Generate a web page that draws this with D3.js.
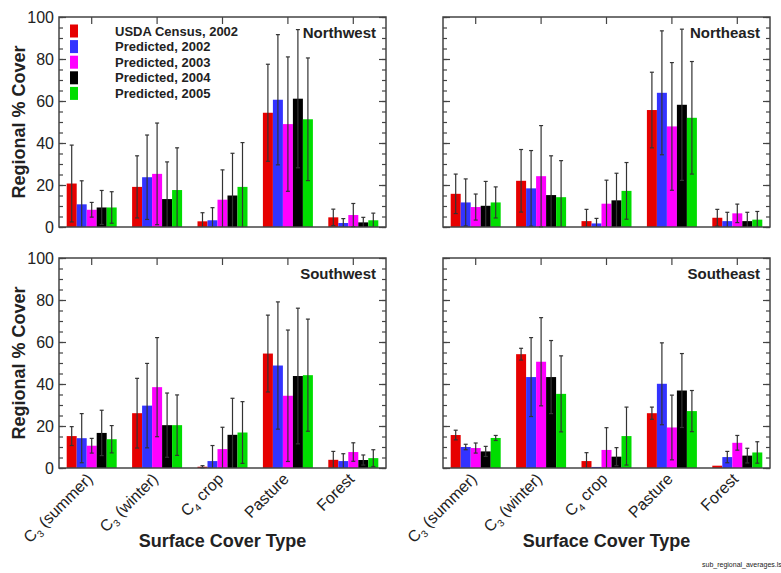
<!DOCTYPE html>
<html>
<head>
<meta charset="utf-8">
<script src="https://cdn.jsdelivr.net/npm/d3@7/dist/d3.min.js"></script>
<style>
  body { margin: 0; background: #fff; }
  text { font-family: "Liberation Sans", Arial, Helvetica, sans-serif; fill: #222; }
</style>
</head>
<body>
<script>
// categories along the x axis and the labels drawn under them (main, subscript, rest)
var categories = ["C3 summer", "C3 winter", "C4 crop", "Pasture", "Forest"];
var tickLabels = [["C", "3", " (summer)"], ["C", "3", " (winter)"], ["C", "4", " crop"], ["Pasture", "", ""], ["Forest", "", ""]];

var seriesNames = ["USDA Census, 2002", "Predicted, 2002", "Predicted, 2003", "Predicted, 2004", "Predicted, 2005"];
var colors = ["#e60000", "#3333ff", "#ff00ff", "#000000", "#00dd00"];

// regional % cover, one row per series (same order as seriesNames)
var northwest = [
  [20.7, 19.1, 2.7, 54.4, 4.6],
  [10.8, 23.7, 3.2, 60.6, 1.9],
  [8.2, 25.3, 13.0, 49.0, 5.7],
  [9.3, 13.3, 15.0, 61.1, 2.2],
  [9.3, 17.6, 19.1, 51.3, 3.2]
];
var northwestErr = [
  [18.3, 14.8, 4.1, 23.1, 3.9],
  [11.2, 20.1, 6.0, 31.0, 2.1],
  [3.5, 24.2, 14.2, 32.0, 5.5],
  [8.1, 17.7, 20.1, 32.9, 2.4],
  [7.5, 20.1, 21.1, 29.2, 3.4]
];

var northeast = [
  [15.8, 22.0, 2.8, 55.7, 4.4],
  [11.7, 18.4, 1.7, 63.9, 2.8],
  [9.5, 24.2, 11.1, 47.9, 6.5],
  [10.1, 15.2, 12.7, 58.2, 2.8],
  [11.7, 14.2, 17.2, 52.0, 3.5]
];
var northeastErr = [
  [9.4, 14.9, 5.6, 18.0, 4.0],
  [11.2, 18.0, 2.4, 29.5, 4.2],
  [6.2, 24.1, 11.2, 30.4, 4.4],
  [11.6, 18.7, 12.9, 36.0, 4.2],
  [7.4, 17.4, 13.5, 26.8, 3.9]
];

var southwest = [
  [15.2, 26.1, 0.6, 54.5, 3.9],
  [14.2, 29.7, 3.3, 48.8, 3.3],
  [10.6, 38.5, 9.0, 34.4, 7.6],
  [16.7, 20.4, 15.8, 43.8, 3.8],
  [13.7, 20.4, 16.9, 44.2, 4.7]
];
var southwestErr = [
  [4.5, 16.6, 0.5, 18.3, 4.0],
  [11.7, 20.1, 7.4, 30.3, 3.5],
  [3.5, 23.6, 10.4, 31.3, 4.4],
  [10.8, 15.3, 17.4, 32.3, 2.4],
  [6.5, 14.4, 14.7, 26.7, 4.0]
];

var southeast = [
  [15.7, 54.2, 3.3, 26.1, 1.1],
  [10.0, 43.3, 0.5, 40.1, 5.2],
  [9.5, 50.6, 8.6, 19.3, 12.0],
  [7.9, 43.3, 5.4, 36.9, 5.9],
  [14.3, 35.3, 15.2, 27.1, 7.4]
];
var southeastErr = [
  [2.3, 2.8, 4.0, 2.9, 0],
  [1.3, 18.8, 0, 19.5, 2.7],
  [2.4, 21.0, 10.6, 15.4, 3.5],
  [2.4, 17.4, 4.3, 17.6, 3.5],
  [1.2, 18.1, 13.8, 9.8, 5.1]
];

var yTicks = [0, 20, 40, 60, 80, 100];

// panel size
var width = 327;
var height = 210;

var panels = [
  {name: "Northwest", left: 59, top: 17, values: northwest, errors: northwestErr, yLabels: true, xLabels: false, legend: true},
  {name: "Northeast", left: 443, top: 17, values: northeast, errors: northeastErr, yLabels: false, xLabels: false, legend: false},
  {name: "Southwest", left: 59, top: 258, values: southwest, errors: southwestErr, yLabels: true, xLabels: true, legend: false},
  {name: "Southeast", left: 443, top: 258, values: southeast, errors: southeastErr, yLabels: false, xLabels: true, legend: false}
];

var svg = d3.select("body").append("svg").attr("width", 781).attr("height", 573);

var x = d3.scaleBand().domain(categories).range([0, width]).padding(0);
var y = d3.scaleLinear().domain([0, 100]).range([height, 0]);
var xs = d3.scaleBand().domain(seriesNames).range([-25, 25]).padding(0);

panels.forEach(function(p){
  var g = svg.append("g").attr("transform", "translate(" + p.left + "," + p.top + ")");

  // flatten into one record per bar
  var bars = [];
  p.values.forEach(function(row, i){
    row.forEach(function(v, j){
      bars.push({cat: categories[j], series: seriesNames[i], color: colors[i], value: v, err: p.errors[i][j]});
    });
  });

  g.selectAll("rect.bar").data(bars).enter().append("rect")
    .attr("class", "bar")
    .attr("x", function(d){ return x(d.cat) + x.bandwidth() / 2 + xs(d.series); })
    .attr("width", xs.bandwidth())
    .attr("y", function(d){ return y(d.value); })
    .attr("height", function(d){ return height - y(d.value); })
    .attr("fill", function(d){ return d.color; });

  // error bars
  var eb = g.selectAll("g.err").data(bars.filter(function(d){ return d.err > 0; })).enter().append("g")
    .attr("class", "err")
    .attr("stroke", "#333")
    .attr("stroke-width", 1.2);
  var cx = function(d){ return x(d.cat) + x.bandwidth() / 2 + xs(d.series) + xs.bandwidth() / 2; };
  eb.append("line")
    .attr("x1", cx).attr("x2", cx)
    .attr("y1", function(d){ return y(Math.min(100, d.value + d.err)); })
    .attr("y2", function(d){ return y(Math.max(0, d.value - d.err)); });
  eb.filter(function(d){ return d.value + d.err <= 100; }).append("line")
    .attr("x1", function(d){ return cx(d) - 2; }).attr("x2", function(d){ return cx(d) + 2; })
    .attr("y1", function(d){ return y(d.value + d.err); }).attr("y2", function(d){ return y(d.value + d.err); });
  eb.filter(function(d){ return d.value - d.err >= 0; }).append("line")
    .attr("x1", function(d){ return cx(d) - 2; }).attr("x2", function(d){ return cx(d) + 2; })
    .attr("y1", function(d){ return y(d.value - d.err); }).attr("y2", function(d){ return y(d.value - d.err); });

  // inward ticks: minor every 5, major every 20, on both sides
  var minor = d3.range(0, 101, 5);
  var leftMinor = g.append("g").call(d3.axisLeft(y).tickValues(minor).tickSize(-4).tickFormat(""));
  var leftMajor = g.append("g").call(d3.axisLeft(y).tickValues(yTicks).tickSize(-7).tickPadding(5)
    .tickFormat(p.yLabels ? d3.format("d") : ""));
  var rightMinor = g.append("g").attr("transform", "translate(" + width + ",0)")
    .call(d3.axisRight(y).tickValues(minor).tickSize(-4).tickFormat(""));
  var rightMajor = g.append("g").attr("transform", "translate(" + width + ",0)")
    .call(d3.axisRight(y).tickValues(yTicks).tickSize(-7).tickFormat(""));
  var top = g.append("g").call(d3.axisTop(x).tickSize(-7).tickFormat(""));
  [leftMinor, leftMajor, rightMinor, rightMajor, top].forEach(function(a){
    a.select(".domain").remove();
    a.selectAll("line").attr("stroke", "#444").attr("stroke-width", 1.2);
  });
  leftMajor.selectAll("text").style("font-size", "16px").attr("fill", "#222");

  // frame
  g.append("rect").attr("width", width).attr("height", height)
    .attr("fill", "none").attr("stroke", "#444").attr("stroke-width", 1.5);

  // region name
  g.append("text").attr("x", width - 10).attr("y", 21)
    .attr("text-anchor", "end").style("font-size", "15px").style("font-weight", "bold")
    .text(p.name);

  if (p.yLabels) {
    g.append("text")
      .attr("transform", "translate(-34," + (height / 2) + ") rotate(-90)")
      .attr("text-anchor", "middle").style("font-size", "18px").style("font-weight", "bold")
      .text("Regional % Cover");
  }

  if (p.xLabels) {
    var lab = g.selectAll("text.xlab").data(tickLabels).enter().append("text")
      .attr("class", "xlab")
      .attr("text-anchor", "end")
      .style("font-size", "16px")
      .attr("transform", function(d, j){
        return "translate(" + (x(categories[j]) + x.bandwidth() / 2 + 2) + "," + (height + 12) + ") rotate(-45)";
      });
    lab.append("tspan").text(function(d){ return d[0]; });
    lab.append("tspan").attr("dy", 4).style("font-size", "10px").text(function(d){ return d[1]; });
    lab.append("tspan").attr("dy", function(d){ return d[1] ? -4 : 0; }).text(function(d){ return d[2]; });

    g.append("text").attr("x", width / 2).attr("y", 289)
      .attr("text-anchor", "middle").style("font-size", "18px").style("font-weight", "bold")
      .text("Surface Cover Type");
  }

  if (p.legend) {
    var leg = g.selectAll("g.leg").data(seriesNames).enter().append("g")
      .attr("class", "leg")
      .attr("transform", function(d, i){ return "translate(11," + (14 + i * 15.6) + ")"; });
    leg.append("rect").attr("y", -6.5).attr("width", 8).attr("height", 13)
      .attr("fill", function(d, i){ return colors[i]; });
    leg.append("text").attr("x", 45).attr("y", 4.5)
      .style("font-size", "13px").style("font-weight", "bold")
      .text(function(d){ return d; });
  }
});

// file name in the corner
svg.append("text").attr("x", 702).attr("y", 567)
  .style("font-size", "7px").text("sub_regional_averages.ls");
</script>
</body>
</html>
